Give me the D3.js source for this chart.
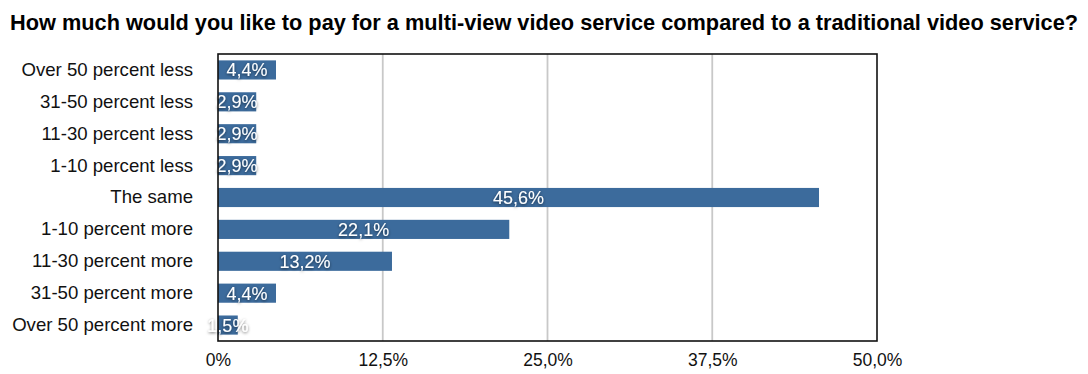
<!DOCTYPE html>
<html>
<head>
<meta charset="utf-8">
<script src="https://cdn.jsdelivr.net/npm/d3@7"></script>
<style>
  html, body { margin: 0; padding: 0; background: #fff; }
  svg { display: block; font-family: "Liberation Sans", Arial, Helvetica, sans-serif; }
</style>
</head>
<body>
<svg id="chart" width="1088" height="374"></svg>
<script>
const title = "How much would you like to pay for a multi-view video service compared to a traditional video service?";
const categories = [
  "Over 50 percent less",
  "31-50 percent less",
  "11-30 percent less",
  "1-10 percent less",
  "The same",
  "1-10 percent more",
  "11-30 percent more",
  "31-50 percent more",
  "Over 50 percent more"
];
const values = [4.4, 2.9, 2.9, 2.9, 45.6, 22.1, 13.2, 4.4, 1.5];
const tickValues = [0, 12.5, 25, 37.5, 50];
const tickLabels = ["0%", "12,5%", "25,0%", "37,5%", "50,0%"];

const svg = d3.select("#chart");
const margin = { left: 218, right: 211, top: 54, bottom: 33 };
const W = 1088, H = 374;
const x0 = margin.left, x1 = W - margin.right, y0 = margin.top, y1 = H - margin.bottom;

const x = d3.scaleLinear().domain([0, 50]).range([x0, x1]);
const y = d3.scaleBand().domain(categories).range([y0, y1]).paddingInner(0.4).paddingOuter(0.2);

const defs = svg.append("defs");
const f = defs.append("filter").attr("id", "shadow").attr("x", "-20%").attr("y", "-40%").attr("width", "140%").attr("height", "180%");
f.append("feDropShadow").attr("dx", 0).attr("dy", 1).attr("stdDeviation", 1.8)
  .attr("flood-color", "#000").attr("flood-opacity", 0.6);

svg.append("text")
  .attr("x", 10).attr("y", 30)
  .attr("font-size", 21.5).attr("font-weight", "bold").attr("fill", "#000")
  .attr("textLength", 1068).attr("lengthAdjust", "spacingAndGlyphs")
  .text(title);

// vertical gridlines
svg.append("g").selectAll("line")
  .data(tickValues.slice(1, -1))
  .join("line")
  .attr("x1", d => x(d)).attr("x2", d => x(d))
  .attr("y1", y0).attr("y2", y1)
  .attr("stroke", "#c8c8c8").attr("stroke-width", 1.8);

// bars
svg.append("g").selectAll("rect")
  .data(values)
  .join("rect")
  .attr("x", x(0))
  .attr("y", (d, i) => y(categories[i]))
  .attr("width", d => x(d) - x(0))
  .attr("height", y.bandwidth())
  .attr("fill", "#3c6b9c");

// value labels
svg.append("g").selectAll("text")
  .data(values)
  .join("text")
  .attr("x", d => (x(0) + x(d)) / 2)
  .attr("y", (d, i) => y(categories[i]) + y.bandwidth() / 2)
  .attr("dy", "0.36em")
  .attr("text-anchor", "middle")
  .attr("font-size", 18)
  .attr("fill", "#fff")
  .attr("filter", "url(#shadow)")
  .text(d => d.toFixed(1).replace(".", ",") + "%");

// frame
svg.append("rect")
  .attr("x", x0).attr("y", y0)
  .attr("width", x1 - x0).attr("height", y1 - y0)
  .attr("fill", "none").attr("stroke", "#111").attr("stroke-width", 1.6);

// category axis
const yAxis = d3.axisLeft(y).tickSize(0).tickPadding(25);
const gy = svg.append("g").attr("transform", `translate(${x0},0)`).call(yAxis);
gy.select(".domain").remove();
gy.selectAll("text").attr("font-size", 18.6).attr("fill", "#111")
  .attr("font-family", "Liberation Sans, Arial, sans-serif");

// value axis
const xAxis = d3.axisBottom(x).tickValues(tickValues).tickSize(0).tickPadding(13)
  .tickFormat((d, i) => tickLabels[i]);
const gx = svg.append("g").attr("transform", `translate(0,${y1})`).call(xAxis);
gx.select(".domain").remove();
gx.selectAll("text").attr("font-size", 17.5).attr("fill", "#111")
  .attr("font-family", "Liberation Sans, Arial, sans-serif");
</script>
</body>
</html>
